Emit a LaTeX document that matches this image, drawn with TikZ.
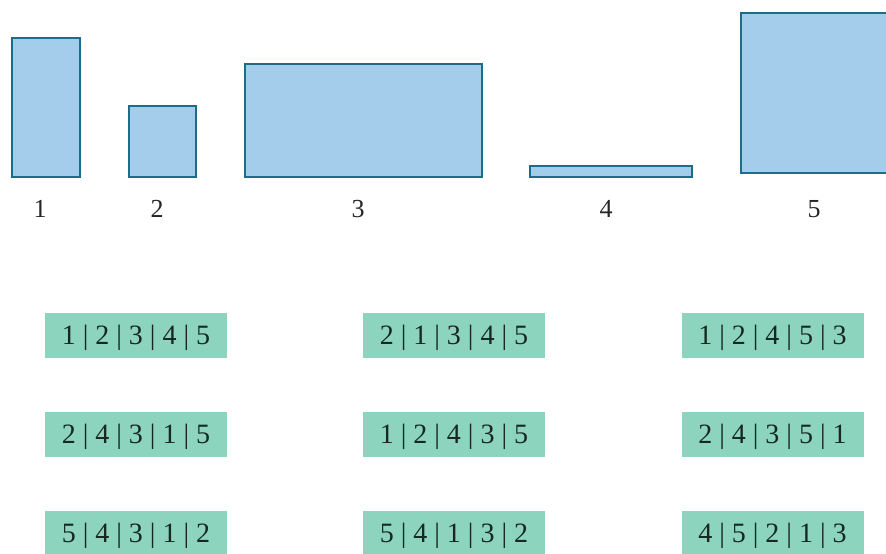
\documentclass[tikz,border=0pt]{standalone}
\usepackage{fontspec}
\setmainfont{Liberation Serif}
\usepackage{tikz}
\usetikzlibrary{calc}
\definecolor{barfill}{RGB}{163,205,235}
\definecolor{bardraw}{RGB}{28,108,140}
\definecolor{boxfill}{RGB}{141,212,190}
\definecolor{boxtext}{RGB}{22,40,32}
\tikzset{
  bar/.style={fill=barfill, draw=bardraw, line width=1.6pt},
  barlabel/.style={text=black!85, font=\fontsize{26}{28}\selectfont},
  order/.style={fill=boxfill, text=boxtext, minimum width=182pt, minimum height=45pt,
    inner sep=0pt, text height=18.5pt, text depth=0pt,
    font=\fontsize{28}{30}\selectfont}
}

\begin{document}
\begin{tikzpicture}[x=1pt,y=-1pt]
\useasboundingbox (0,0) rectangle (886,554);
\clip (0,0) rectangle (886,554);

% the five rectangles
\draw [bar] (12,38) rectangle (80,177);
\draw [bar] (129,106) rectangle (196,177);
\draw [bar] (245,64) rectangle (482,177);
\draw [bar] (530,166) rectangle (692,177);
\draw [bar] (741,13) rectangle (900,173);

\node [barlabel] (lab1) at (40,209) {1};
\node [barlabel] (lab2) at (157,209) {2};
\node [barlabel] (lab3) at (358,209) {3};
\node [barlabel] (lab4) at (606,209) {4};
\node [barlabel] (lab5) at (814,209) {5};

% orderings
\node [order] (ord11) at (136,335) {1 | 2 | 3 | 4 | 5};
\node [order] (ord12) at (454,335) {2 | 1 | 3 | 4 | 5};
\node [order] (ord13) at (772.5,335) {1 | 2 | 4 | 5 | 3};

\node [order] (ord21) at (136,434) {2 | 4 | 3 | 1 | 5};
\node [order] (ord22) at (454,434) {1 | 2 | 4 | 3 | 5};
\node [order] (ord23) at (772.5,434) {2 | 4 | 3 | 5 | 1};

\node [order] (ord31) at (136,533.5) {5 | 4 | 3 | 1 | 2};
\node [order] (ord32) at (454,533.5) {5 | 4 | 1 | 3 | 2};
\node [order] (ord33) at (772.5,533.5) {4 | 5 | 2 | 1 | 3};

\end{tikzpicture}
\end{document}
